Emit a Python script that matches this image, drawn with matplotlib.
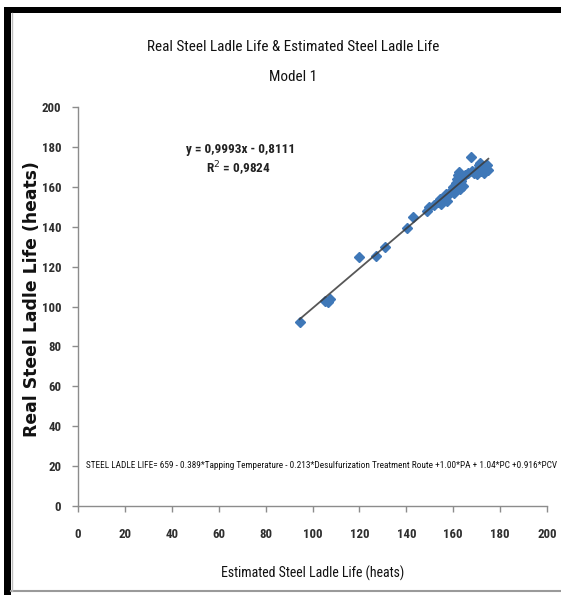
import matplotlib
matplotlib.use("Agg")
import matplotlib.pyplot as plt
from matplotlib.patches import Rectangle
from matplotlib.lines import Line2D
from matplotlib import font_manager as fm
import numpy as np

# Estimated vs. real steel ladle life (heats)
estimated = [94.5, 105.5, 107.5, 106.5, 120, 127, 131, 140.5, 143, 149, 149.5,
             152, 153.5, 154.5, 155, 156, 157, 157.5, 158.5, 159, 160, 160.5,
             161, 161.5, 162, 162.5, 162.5, 163, 163.5, 164, 165, 166.5, 167.5,
             168, 169, 170, 170.5, 171, 171.5, 172, 172.5, 173, 174, 175, 174.5]
real = [92, 103, 104, 102.5, 125, 125.5, 130, 139.5, 145, 148, 150,
        151, 152.5, 154, 151.5, 155, 156.5, 153, 157, 158, 160, 157,
        162, 164, 166, 161, 167.5, 159, 163, 160.5, 166, 167, 175,
        168, 167, 166.5, 169, 171, 172, 168, 170, 167, 169, 168.5, 171]

slope = 0.9993
intercept = -0.8111
r_squared = 0.9824

x_ticks = [0, 20, 40, 60, 80, 100, 120, 140, 160, 180, 200]
y_ticks = [0, 20, 40, 60, 80, 100, 120, 140, 160, 180, 200]

title_lines = ["Real Steel Ladle Life & Estimated Steel Ladle Life", "Model 1"]
x_label = "Estimated Steel Ladle Life (heats)"
y_label = "Real Steel Ladle Life (heats)"
eq_line = "y = 0,9993x - 0,8111"
r2_line = "R$^2$ = 0,9824"
model_text = ("STEEL LADLE LIFE= 659 - 0.389*Tapping Temperature - 0.213*Desulfurization "
              "Treatment Route +1.00*PA + 1.04*PC +0.916*PCV")


def pick_narrow_font():
    """Prefer a condensed/narrow sans face if one is installed."""
    for f in fm.fontManager.ttflist:
        if f.name in ("Liberation Sans Narrow", "Roboto Condensed", "Open Sans Condensed"):
            return dict(family=f.name)
    for f in fm.fontManager.ttflist:
        if f.name == "DejaVu Sans" and str(f.stretch) in ("condensed", "semi-condensed"):
            return dict(family="DejaVu Sans", stretch="condensed")
    return dict(family="Liberation Sans")


NARROW = pick_narrow_font()

W, H = 561, 595
fig = plt.figure(figsize=(W / 100, H / 100), dpi=100)
fig.patch.set_facecolor("white")
renderer = fig.canvas.get_renderer()


def fit_width(t, target_px, vertical=False):
    """Scale a text's font size so that its drawn length equals target_px."""
    bb = t.get_window_extent(renderer=renderer)
    cur = bb.height if vertical else bb.width
    t.set_fontsize(t.get_fontsize() * target_px / cur)
    return t


ax = fig.add_axes([78 / W, 1 - 506 / H, (547 - 78) / W, (506 - 107) / H])
ax.set_xlim(0, 200)
ax.set_ylim(0, 200)
ax.set_xticks(x_ticks)
ax.set_yticks(y_ticks)
for side in ("top", "right"):
    ax.spines[side].set_visible(False)
for side in ("left", "bottom"):
    ax.spines[side].set_color("#8c8c8c")
    ax.spines[side].set_linewidth(1.0)

# tick label size chosen from the width of "200"
probe = fig.text(0, 0, "200", fontweight="bold", fontsize=10, **NARROW)
fit_width(probe, 19.5)
tick_size = probe.get_fontsize()
probe.remove()

ax.tick_params(axis="both", direction="out", length=4, width=1.0, color="#8c8c8c",
               labelsize=tick_size, labelcolor="#2e2e2e")
ax.tick_params(axis="x", pad=12)
ax.tick_params(axis="y", pad=8)
for lab in ax.get_xticklabels() + ax.get_yticklabels():
    lab.set_fontweight("bold")
    lab.set_family(NARROW["family"])
    if "stretch" in NARROW:
        lab.set_stretch(NARROW["stretch"])

# trend line over the data range
xs = np.array([min(estimated), max(estimated)])
ax.plot(xs, slope * xs + intercept, color="#3a3a3a", lw=1.3, zorder=3, alpha=0.85)
ax.plot(estimated, real, linestyle="none", marker="D", markersize=5.6,
        color="#3f78b8", markeredgecolor="#3f78b8", zorder=2)

# titles and axis labels
t1 = fig.text(293 / W, 1 - 47 / H, title_lines[0], ha="center", va="center",
              fontsize=12, color="#111111", **NARROW)
fit_width(t1, 292)
fig.text(293 / W, 1 - 77 / H, title_lines[1], ha="center", va="center",
         fontsize=t1.get_fontsize(), color="#111111", **NARROW)
xl = fig.text(313 / W, 1 - 573 / H, x_label, ha="center", va="center",
              fontsize=12, color="#111111", **NARROW)
fit_width(xl, 184)
yl = fig.text(32 / W, 1 - 299 / H, y_label, ha="center", va="center", rotation=90,
              family="DejaVu Sans", fontweight="bold", fontsize=10.5, color="#111111")
fit_width(yl, 278, vertical=True)

# regression equation
e1 = fig.text(241 / W, 1 - 149 / H, eq_line, ha="center", va="center",
              fontweight="bold", fontsize=10, color="#222222", **NARROW)
fit_width(e1, 110)
fig.text(238 / W, 1 - 169 / H, r2_line, ha="center", va="center",
         fontweight="bold", fontsize=e1.get_fontsize(), color="#222222", **NARROW)

# model equation
mt = fig.text(86 / W, 1 - 466 / H, model_text, ha="left", va="center",
              fontsize=7, color="#111111", **NARROW)
fit_width(mt, 472)

# outer frame
fig.add_artist(Rectangle((4 / W, 0), 7 / W, 1 - 7 / H, transform=fig.transFigure,
                         facecolor="black", edgecolor="none"))
fig.add_artist(Rectangle((4 / W, 1 - 13 / H), 1, 6 / H, transform=fig.transFigure,
                         facecolor="black", edgecolor="none"))
fig.add_artist(Line2D([11 / W, 1], [1 - 591 / H, 1 - 591 / H], transform=fig.transFigure,
                      color="#9a9a9a", lw=1.5))
fig.add_artist(Line2D([12 / W, 12 / W], [1 - 591 / H, 1 - 13 / H], transform=fig.transFigure,
                      color="#bdbdbd", lw=1.0))

fig.savefig("out.png", dpi=100)
